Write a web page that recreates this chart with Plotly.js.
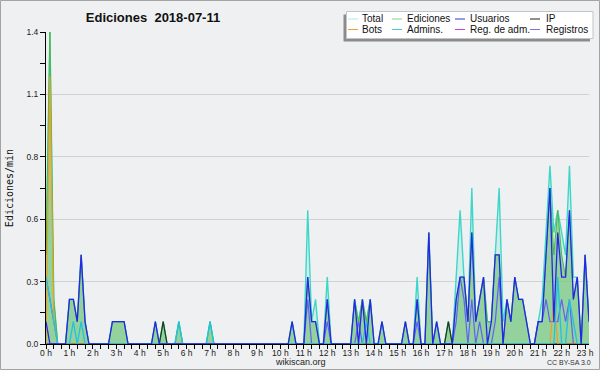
<!DOCTYPE html>
<html><head><meta charset="utf-8">
<script src="https://cdn.plot.ly/plotly-3.0.1.min.js"></script>
<style>html,body{margin:0;padding:0;background:#eff0f1;}#chart{width:600px;height:370px;}</style>
</head><body><div id="chart"></div>
<script>
// ---- data (10-minute bins, edits per minute) ----
const binMinutes = 10;
const hourTicks = [0,1,2,3,4,5,6,7,8,9,10,11,12,13,14,15,16,17,18,19,20,21,22,23];
const hourLabels = ["0 h","1 h","2 h","3 h","4 h","5 h","6 h","7 h","8 h","9 h","10 h","11 h","12 h","13 h","14 h","15 h","16 h","17 h","18 h","19 h","20 h","21 h","22 h","23 h"];
const yTickValues = [0,0.28,0.56,0.84,1.12,1.4];
const yTickLabels = ["0.0","0.3","0.6","0.8","1.1","1.4"];
const seriesNames = ["Total","Ediciones","Usuarios","IP","Bots","Admins.","Reg. de adm.","Registros"];

const total = [
 0.4,1.4,0.2,0,0,0,0.2,0.2,0.1,0.4,0.1,0,
 0,0,0,0,0,0.1,0.1,0.1,0.1,0,0,0,
 0,0,0,0,0.1,0,0.1,0,0,0,0.1,0,
 0,0,0,0,0,0,0.1,0,0,0,0,0,
 0,0,0,0,0,0,0,0,0,0,0,0,
 0,0,0,0.1,0,0,0,0.6,0.1,0.2,0,0,
 0.3,0,0,0,0,0,0,0.2,0.1,0.2,0.1,0.2,
 0,0,0.1,0,0,0,0,0,0.1,0,0,0.3,
 0,0,0.5,0,0.1,0,0,0.1,0,0.3,0.6,0.3,
 0.1,0.7,0.1,0.2,0.3,0.1,0.1,0.4,0.7,0.1,0.2,0.1,
 0.3,0.2,0.2,0.1,0,0,0.1,0.2,0.5,0.8,0.5,0.6,
 0.5,0.4,0.8,0.3,0.3,0,0.4,0.1];
const ediciones = [
 0.4,1.4,0.2,0,0,0,0.2,0.2,0.1,0.4,0.1,0,
 0,0,0,0,0,0.1,0.1,0.1,0.1,0,0,0,
 0,0,0,0,0.1,0,0.1,0,0,0,0.1,0,
 0,0,0,0,0,0,0.1,0,0,0,0,0,
 0,0,0,0,0,0,0,0,0,0,0,0,
 0,0,0,0.1,0,0,0,0.3,0.1,0.1,0,0,
 0.2,0,0,0,0,0,0,0.2,0.1,0.2,0.1,0.2,
 0,0,0.1,0,0,0,0,0,0.1,0,0,0.2,
 0,0,0.5,0,0.1,0,0,0.1,0,0.2,0.3,0.3,
 0.1,0.5,0.1,0.2,0.3,0.1,0.1,0.4,0.4,0,0.2,0.1,
 0.3,0.2,0.2,0.1,0,0,0.1,0.1,0.4,0.7,0.4,0.6,
 0.4,0.3,0.6,0.2,0.3,0,0.4,0.1];
const usuarios = [
 0.1,0,0,0,0,0,0.2,0.2,0.1,0.4,0.1,0,
 0,0,0,0,0,0.1,0.1,0.1,0.1,0,0,0,
 0,0,0,0,0.1,0,0,0,0,0,0,0,
 0,0,0,0,0,0,0,0,0,0,0,0,
 0,0,0,0,0,0,0,0,0,0,0,0,
 0,0,0,0.1,0,0,0,0.3,0.1,0.1,0,0,
 0.2,0,0,0,0,0,0,0.2,0,0.2,0,0.2,
 0,0,0.1,0,0,0,0,0,0.1,0,0,0.2,
 0,0,0.5,0,0.1,0,0,0,0,0.2,0.3,0.3,
 0.1,0.5,0.1,0.2,0.3,0,0.1,0.4,0.4,0,0.2,0.1,
 0.3,0.2,0.2,0.1,0,0,0.1,0.1,0.4,0.7,0.1,0.5,
 0.3,0.3,0.6,0.2,0.3,0,0.4,0.1];
const ip = [
 0,0,0,0,0,0,0,0,0,0,0,0,
 0,0,0,0,0,0,0,0,0,0,0,0,
 0,0,0,0,0,0,0.1,0,0,0,0,0,
 0,0,0,0,0,0,0,0,0,0,0,0,
 0,0,0,0,0,0,0,0,0,0,0,0,
 0,0,0,0,0,0,0,0,0,0,0,0,
 0,0,0,0,0,0,0,0,0,0,0,0,
 0,0,0,0,0,0,0,0,0,0,0,0,
 0,0,0,0,0,0,0,0.1,0,0,0,0,
 0,0,0,0,0,0,0,0,0,0,0,0,
 0,0,0,0,0,0,0,0,0,0,0,0,
 0,0,0,0,0,0,0,0];
const bots = [
 0,1.2,0.1,0,0,0,0,0,0,0,0,0,
 0,0,0,0,0,0,0,0,0,0,0,0,
 0,0,0,0,0,0,0,0,0,0,0,0,
 0,0,0,0,0,0,0,0,0,0,0,0,
 0,0,0,0,0,0,0,0,0,0,0,0,
 0,0,0,0,0,0,0,0,0,0,0,0,
 0,0,0,0,0,0,0,0,0,0,0,0,
 0,0,0,0,0,0,0,0,0,0,0,0,
 0,0,0,0,0,0,0,0,0,0,0,0,
 0,0,0,0,0,0,0,0,0,0,0,0,
 0,0,0,0,0,0,0,0,0,0,0.2,0,
 0,0,0,0,0,0,0,0];
const admins = [
 0.3,0.2,0.1,0,0,0,0,0.1,0,0.1,0,0,
 0,0,0,0,0,0,0,0,0,0,0,0,
 0,0,0,0,0,0,0,0,0,0,0.1,0,
 0,0,0,0,0,0,0.1,0,0,0,0,0,
 0,0,0,0,0,0,0,0,0,0,0,0,
 0,0,0,0,0,0,0,0,0,0,0,0,
 0,0,0,0,0,0,0,0,0,0,0.1,0,
 0,0,0,0,0,0,0,0,0,0,0,0,
 0,0,0,0,0,0,0,0,0,0,0,0,
 0,0,0,0,0,0,0,0,0,0,0,0,
 0,0,0,0,0,0,0,0,0,0,0,0.3,
 0,0,0.2,0.1,0,0,0,0];
const regAdm = [
 0,0,0,0,0,0,0,0,0,0,0,0,
 0,0,0,0,0,0,0,0,0,0,0,0,
 0,0,0,0,0,0,0,0,0,0,0,0,
 0,0,0,0,0,0,0,0,0,0,0,0,
 0,0,0,0,0,0,0,0,0,0,0,0,
 0,0,0,0,0,0,0,0,0,0,0,0,
 0,0,0,0,0,0,0,0,0,0,0,0,
 0,0,0,0,0,0,0,0,0,0,0,0,
 0,0,0,0,0,0,0,0,0,0,0,0,
 0,0,0,0,0,0,0,0,0,0,0,0,
 0,0,0,0,0,0,0,0,0,0,0,0,
 0,0,0,0,0,0,0,0];
const registros = [
 0.3,0.2,0.1,0,0,0,0,0,0,0,0,0,
 0,0,0,0,0,0,0,0,0,0,0,0,
 0,0,0,0,0,0,0,0,0,0,0,0,
 0,0,0,0,0,0,0,0,0,0,0,0,
 0,0,0,0,0,0,0,0,0,0,0,0,
 0,0,0,0,0,0,0,0.2,0,0,0,0,
 0.1,0,0,0,0,0,0,0,0.1,0,0,0,
 0,0,0,0,0,0,0,0,0,0,0,0.1,
 0,0,0,0,0,0,0,0,0,0.1,0.3,0.2,
 0,0.2,0,0.1,0,0,0,0.1,0.3,0,0,0,
 0,0,0,0,0,0,0.1,0.1,0.2,0.1,0.1,0.1,
 0.2,0.1,0.2,0,0,0,0,0];

// ---- styles ----
const styles = {
 "Total":        {color:'#3fd6ca', width:1.4, fill:'rgba(170,235,225,0.45)', legend:'#aee9e1'},
 "Ediciones":    {color:'#4cb84c', width:1.0, fill:'rgba(110,190,110,0.62)', legend:'#86cf86'},
 "Usuarios":     {color:'#2626e8', width:1.3, legend:'#3434d0'},
 "IP":           {color:'#1e3a1e', width:1.2, legend:'#202020'},
 "Bots":         {color:'#f0a020', width:1.2, legend:'#f0a030'},
 "Admins.":      {color:'#22c2e0', width:1.3, legend:'#44c8e0'},
 "Reg. de adm.": {color:'#d040d0', width:1.0, legend:'#d040d0'},
 "Registros":    {color:'#6262f2', width:1.2, legend:'#7474e6'}
};
const seriesData = {
 "Total":total, "Ediciones":ediciones, "Usuarios":usuarios, "IP":ip,
 "Bots":bots, "Admins.":admins, "Reg. de adm.":regAdm, "Registros":registros
};
const drawOrder = ["Total","Ediciones","Registros","Reg. de adm.","IP","Bots","Admins.","Usuarios"];

const hours = total.map((_, i) => i * binMinutes / 60);

const traces = drawOrder.map(name => {
  const s = styles[name];
  const t = {type:'scatter', mode:'lines', name:name, x:hours, y:seriesData[name],
    line:{color:s.color, width:s.width, shape:'linear'}, showlegend:false, hoverinfo:'skip'};
  if (s.fill) { t.fill = 'tozeroy'; t.fillcolor = s.fill; }
  return t;
});

// ---- layout helpers (pixel -> paper) ----
const M = {l:46, r:11, t:32, b:26};
const W = 600, H = 370;
const PW = W - M.l - M.r, PH = H - M.t - M.b;
const px = x => (x - M.l) / PW;
const py = y => (H - M.b - y) / PH;

const shapes = [];
const annotations = [];
// outer frame
shapes.push({type:'rect', xref:'paper', yref:'paper', x0:px(0.5), x1:px(599.5), y0:py(369.5), y1:py(0.5),
  line:{color:'#a3a3a3', width:1}, fillcolor:'rgba(0,0,0,0)', layer:'above'});
// legend shadow & box
shapes.push({type:'rect', xref:'paper', yref:'paper', x0:px(343.5), x1:px(590), y0:py(41.5), y1:py(14.5),
  line:{width:0}, fillcolor:'#8c8c8c', layer:'above'});
shapes.push({type:'rect', xref:'paper', yref:'paper', x0:px(346.5), x1:px(593), y0:py(38.5), y1:py(11.5),
  line:{color:'#c4c4c4', width:1}, fillcolor:'#ffffff', layer:'above'});
const legendCols = [{sw:348, tx:360},{sw:392, tx:405},{sw:455, tx:468},{sw:530, tx:544}];
const legendRows = [19, 29.5];
seriesNames.forEach((name, i) => {
  const col = legendCols[i % 4], row = legendRows[Math.floor(i / 4)];
  shapes.push({type:'line', xref:'paper', yref:'paper', x0:px(col.sw), x1:px(col.sw + 10), y0:py(row), y1:py(row),
    line:{color:styles[name].legend, width:1}, layer:'above'});
  annotations.push({xref:'paper', yref:'paper', x:px(col.tx), y:py(row), text:name, showarrow:false,
    xanchor:'left', yanchor:'middle', font:{family:'Liberation Sans, Arial, sans-serif', size:10, color:'#111'}});
});
annotations.push({xref:'paper', yref:'paper', x:px(300), y:py(361.5), text:'wikiscan.org', showarrow:false,
  xanchor:'center', yanchor:'middle', font:{family:'Liberation Sans, Arial, sans-serif', size:9, color:'#222'}});
annotations.push({xref:'paper', yref:'paper', x:px(569), y:py(362.5), text:'CC BY-SA 3.0', showarrow:false,
  xanchor:'center', yanchor:'middle', font:{family:'Liberation Sans, Arial, sans-serif', size:7, color:'#333'}});

const tickFont = {family:'Liberation Sans, Arial, sans-serif', size:8.5, color:'#222'};
const layout = {
  width:W, height:H, margin:M,
  paper_bgcolor:'#eff0f1', plot_bgcolor:'#eff0f1',
  showlegend:false,
  title:{text:'Ediciones\u00a0 2018-07-11', x:153/W, xanchor:'center', xref:'container',
    y:1 - 17/H, yref:'container', yanchor:'middle',
    font:{family:'Liberation Sans, Arial, sans-serif', size:13, weight:'bold', color:'#111'}},
  xaxis:{range:[0, (total.length - 1) * binMinutes / 60], tickmode:'array', tickvals:hourTicks, ticktext:hourLabels,
    ticks:'outside', ticklen:4, tickwidth:1, tickcolor:'#000', showline:true, linecolor:'#000', linewidth:1,
    showgrid:false, zeroline:false, tickfont:tickFont, ticklabelstandoff:-3, fixedrange:true,
    minor:{dtick:1/3, tick0:0, ticks:'outside', ticklen:4, tickwidth:1, tickcolor:'#000', showgrid:false}},
  yaxis:{range:[0, 1.4], tickmode:'array', tickvals:yTickValues, ticktext:yTickLabels,
    ticks:'outside', ticklen:5, tickwidth:1, tickcolor:'#000', showline:true, linecolor:'#000', linewidth:1,
    showgrid:true, gridcolor:'#cfd1d3', gridwidth:1, zeroline:false, tickfont:tickFont, fixedrange:true,
    minor:{dtick:0.14, tick0:0, ticks:'outside', ticklen:5, tickwidth:1, tickcolor:'#000', showgrid:false},
    title:{text:'Ediciones/min', standoff:10, font:{family:'DejaVu Sans Mono, monospace', size:10, color:'#111'}}},
  shapes:shapes, annotations:annotations
};
Plotly.newPlot('chart', traces, layout, {displayModeBar:false, staticPlot:true});
</script></body></html>
